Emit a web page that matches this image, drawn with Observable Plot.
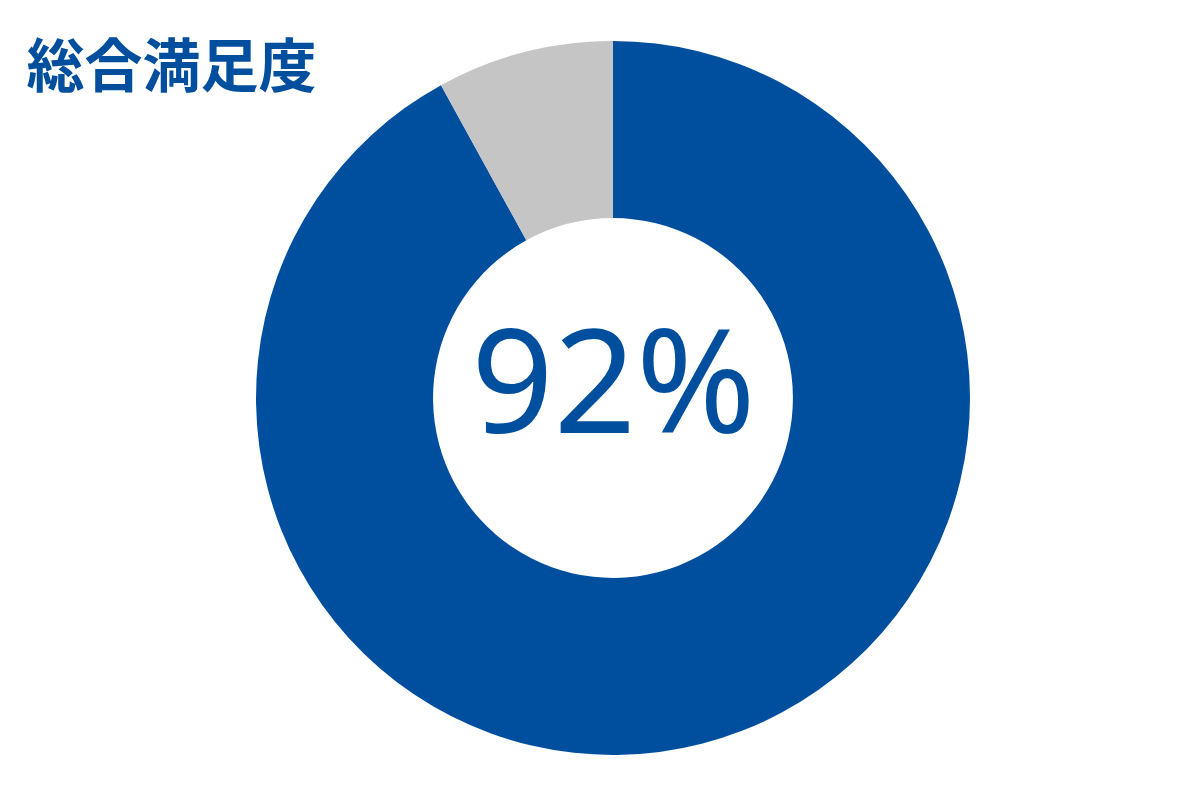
<!DOCTYPE html>
<html><head><meta charset="utf-8">
<script src="https://cdn.jsdelivr.net/npm/d3@7"></script>
<script src="https://cdn.jsdelivr.net/npm/@observablehq/plot@0.6"></script>
<style>html,body{margin:0;padding:0;background:#fff;overflow:hidden}</style>
</head><body><div id="chart"></div>
<script>
// ---- data ----
const categories = ["満足", "その他"];
const values = [92, 8];
const colors = ["#004f9f", "#c5c5c5"];
const title = "総合満足度";

const data = categories.map((c, i) => ({category: c, value: values[i]}));
const color = Plot.scale({color: {domain: categories, range: colors}});
const innerRatio = 0.504;

function donut(index, scales) {
  const cx = scales.x(0), cy = scales.y(0);
  const r = Math.abs(scales.x(1) - scales.x(0));
  const arcs = d3.pie().value(d => d.value).sort(null)(data);
  const arc = d3.arc().innerRadius(r * innerRatio).outerRadius(r);
  const g = d3.create("svg:g").attr("transform", `translate(${cx},${cy})`);
  g.selectAll("path").data(arcs).join("path")
    .attr("d", arc)
    .attr("fill", d => color.apply(d.data.category));
  return g.node();
}

const chart = Plot.plot({
  width: 1200,
  height: 800,
  margin: 0,
  style: {background: "#fff", overflow: "visible"},
  x: {domain: [-1, 1], range: [256, 970], axis: null},
  y: {domain: [-1, 1], range: [755, 41], axis: null},
  marks: [
    donut,
    Plot.text([data[0]], {
      x: () => 0, y: () => 0,
      text: d => `${d.value}%`,
      fill: colors[0],
      fontSize: 144,
      fontFamily: "Noto Sans",
      fontWeight: 400,
      dy: -12
    }),
    Plot.text([title], {
      frameAnchor: "top-left",
      text: d => d,
      dx: 26, dy: 68,
      textAnchor: "start",
      lineAnchor: "middle",
      fill: colors[0],
      fontSize: 58,
      fontWeight: 700,
      fontFamily: "Noto Sans CJK JP"
    })
  ]
});
document.getElementById("chart").appendChild(chart);
</script>
</body></html>
